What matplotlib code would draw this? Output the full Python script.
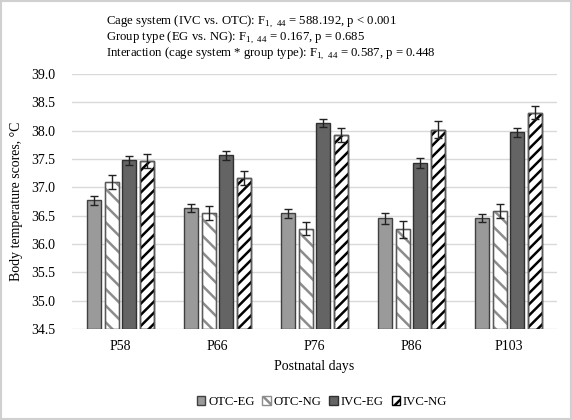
import numpy as np
import matplotlib
matplotlib.use("Agg")
from matplotlib import pyplot as plt
from matplotlib.patches import Rectangle

plt.rcParams['font.family'] = ['Liberation Serif', 'DejaVu Serif']
plt.rcParams['mathtext.fontset'] = 'custom'
plt.rcParams['mathtext.rm'] = 'Liberation Serif'
plt.rcParams['hatch.linewidth'] = 1.8

days = ['P58', 'P66', 'P76', 'P86', 'P103']
groups = ['OTC-EG', 'OTC-NG', 'IVC-EG', 'IVC-NG']

otc_eg = [36.77, 36.63, 36.54, 36.45, 36.46]
otc_ng = [37.09, 36.55, 36.27, 36.26, 36.58]
ivc_eg = [37.48, 37.57, 38.13, 37.43, 37.97]
ivc_ng = [37.46, 37.17, 37.92, 38.02, 38.32]

otc_eg_err = [0.08, 0.07, 0.08, 0.09, 0.07]
otc_ng_err = [0.12, 0.12, 0.12, 0.15, 0.12]
ivc_eg_err = [0.08, 0.08, 0.07, 0.09, 0.08]
ivc_ng_err = [0.12, 0.12, 0.12, 0.15, 0.12]

values = [otc_eg, otc_ng, ivc_eg, ivc_ng]
errors = [otc_eg_err, otc_ng_err, ivc_eg_err, ivc_ng_err]
styles = [
    dict(color='#9a9a9a', edgecolor='#404040', hatch=None),
    dict(color='white', edgecolor='#8c8c8c', hatch='\\\\'),
    dict(color='#646464', edgecolor='#303030', hatch=None),
    dict(color='white', edgecolor='black', hatch='///'),
]

fig = plt.figure(figsize=(5.72, 4.2), dpi=100)
ax = fig.add_axes([72 / 572, 1 - 329 / 420, 485 / 572, 255 / 420])

x = np.arange(len(days))
width = 0.145
offsets = [-0.27, -0.09, 0.09, 0.27]
base = 34.5
for vals, errs, off, st, name in zip(values, errors, offsets, styles, groups):
    heights = np.array(vals) - base
    bars = ax.bar(x + off, heights, width, bottom=base, color=st['color'],
                  edgecolor=st['edgecolor'], hatch=st['hatch'], linewidth=1.0,
                  label=name, zorder=2)
    if st['hatch']:
        # gray outline around hatched bars
        for b in bars:
            ax.add_patch(Rectangle(b.get_xy(), b.get_width(), b.get_height(),
                                   fill=False, edgecolor='#5a5a5a', lw=1.0, zorder=3))
    ax.errorbar(x + off, vals, yerr=errs, fmt='none', ecolor='#222222',
                elinewidth=1.0, capsize=3, capthick=1.0, zorder=4)

ax.set_ylim(34.5, 39.0)
ax.set_xlim(-0.5, 4.5)
ticks = np.arange(34.5, 39.01, 0.5)
ax.set_yticks(ticks)
ax.set_yticklabels([f'{v:.1f}' for v in ticks], fontsize=10)
ax.set_xticks(x)
ax.set_xticklabels(days, fontsize=10)
ax.tick_params(axis='y', length=0, pad=12)
ax.tick_params(axis='x', length=0, pad=8)
ax.grid(axis='y', color='#d9d9d9', linewidth=1.0, zorder=0)
ax.set_axisbelow(True)
for s in ax.spines.values():
    s.set_visible(False)
ax.set_ylabel('Body temperature scores, °C', fontsize=10, labelpad=6)
ax.set_xlabel('Postnatal days', fontsize=10, labelpad=5)

lines = [
    'Cage system (IVC vs. OTC): F$_{1,\\ 44}$ = 588.192, p < 0.001',
    'Group type (EG vs. NG): F$_{1,\\ 44}$ = 0.167, p = 0.685',
    'Interaction (cage system * group type): F$_{1,\\ 44}$ = 0.587, p = 0.448',
]
for i, t in enumerate(lines):
    fig.text(106 / 572, 1 - (21 + 16 * i) / 420, t, fontsize=9.2, va='center')

fig.legend(loc='center', bbox_to_anchor=(322 / 572, 1 - 402 / 420), ncol=4,
           frameon=False, fontsize=9.2, handlelength=0.65, handleheight=0.65,
           handletextpad=0.25, columnspacing=0.6, borderpad=0)

fig.patches.append(Rectangle((0.002, 0.002), 0.996, 0.996, transform=fig.transFigure,
                             fill=False, edgecolor='#d0d0d0', lw=1.5))

plt.savefig('out.png', dpi=100)
